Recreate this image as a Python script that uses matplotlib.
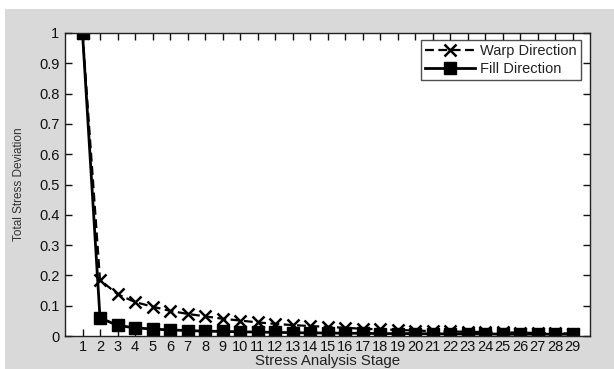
import numpy as np
import matplotlib.pyplot as plt
from matplotlib.patches import Rectangle

plt.rcParams["font.family"] = ["Liberation Sans", "DejaVu Sans"]

# stress deviation per analysis stage
stages = list(range(1, 30))
warp = [1.0, 0.185, 0.138, 0.112, 0.097, 0.083, 0.073, 0.065, 0.057, 0.051,
        0.045, 0.040, 0.036, 0.033, 0.030, 0.027, 0.024, 0.022, 0.020, 0.018,
        0.016, 0.015, 0.014, 0.013, 0.012, 0.011, 0.010, 0.009, 0.008]
fill = [1.0, 0.060, 0.035, 0.027, 0.023, 0.020, 0.018, 0.016, 0.015, 0.014,
        0.013, 0.012, 0.011, 0.010, 0.010, 0.009, 0.009, 0.008, 0.008, 0.008,
        0.007, 0.007, 0.007, 0.007, 0.006, 0.006, 0.006, 0.006, 0.006]
yticks = [0, 0.1, 0.2, 0.3, 0.4, 0.5, 0.6, 0.7, 0.8, 0.9, 1]
ytick_labels = ["0", "0.1", "0.2", "0.3", "0.4", "0.5", "0.6", "0.7", "0.8", "0.9", "1"]

W, H = 614, 369
fig = plt.figure(figsize=(W / 100, H / 100), dpi=100, facecolor="white")
# grey panel behind the axes, with a thin white strip on top and left
fig.patches.append(Rectangle((5 / W, 0), 1, (H - 9) / H, transform=fig.transFigure,
                             facecolor="#d9d9d9", edgecolor="none", zorder=-10))

ax = fig.add_axes([65 / W, 1 - 336 / H, (590 - 65) / W, (336 - 33) / H])
ax.set_facecolor("white")

ax.plot(stages, warp, color="black", ls=(0, (4, 2)), lw=1.6, marker="x", ms=9,
        mew=1.8, label="Warp Direction")
ax.plot(stages, fill, color="black", ls="-", lw=2.0, marker="s", ms=8.5,
        label="Fill Direction")

ax.set_xlim(0, 30)
ax.set_ylim(0, 1)
ax.set_xticks(stages)
ax.set_xticklabels([str(s) for s in stages])
ax.set_yticks(yticks)
ax.set_yticklabels(ytick_labels)
ax.tick_params(direction="in", top=True, right=True, length=5, width=1,
               labelsize=10.5, pad=4, colors="#111111")
ax.tick_params(axis="x", pad=3)
for s in ax.spines.values():
    s.set_linewidth(1.0)
    s.set_color("#222222")

ax.set_xlabel("Stress Analysis Stage", fontsize=10.8, color="#222222", labelpad=0)
ax.set_ylabel("Total Stress Deviation", fontsize=8.5, color="#333333", labelpad=10)

leg = ax.legend(loc="upper right", bbox_to_anchor=(0.983, 0.977), fontsize=10.5,
                frameon=True, fancybox=False, handlelength=3.4,
                borderpad=0.3, labelspacing=0.25, handletextpad=0.35,
                borderaxespad=0)
leg.get_frame().set_edgecolor("#222222")
leg.get_frame().set_linewidth(1.0)
for t in leg.get_texts():
    t.set_color("#222222")

fig.savefig("out.png", dpi=100, facecolor=fig.get_facecolor())
